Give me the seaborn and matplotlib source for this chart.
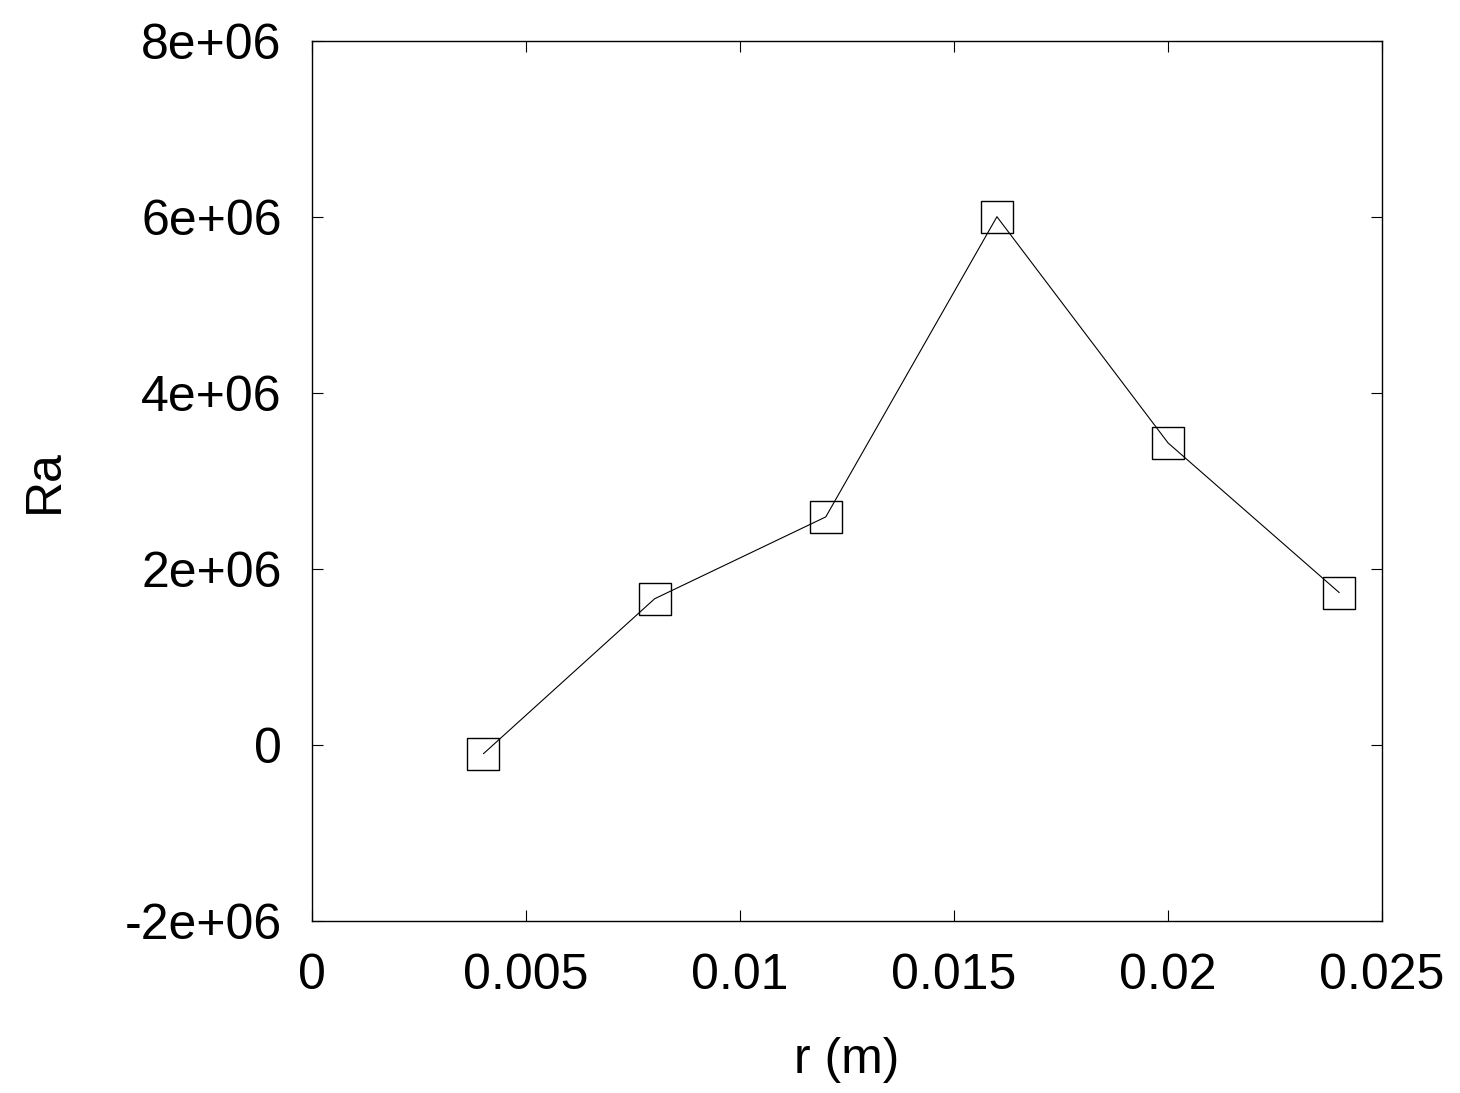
import matplotlib
matplotlib.use("Agg")
import matplotlib.pyplot as plt
import seaborn as sns
import pandas as pd

r_values = [0.004, 0.008, 0.012, 0.016, 0.020, 0.024]
ra_values = [-0.10e6, 1.66e6, 2.59e6, 6.00e6, 3.43e6, 1.73e6]
x_ticks = [0, 0.005, 0.01, 0.015, 0.02, 0.025]
x_tick_labels = ["0", "0.005", "0.01", "0.015", "0.02", "0.025"]
y_ticks = [-2e6, 0, 2e6, 4e6, 6e6, 8e6]
y_tick_labels = ["-2e+06", "0", "2e+06", "4e+06", "6e+06", "8e+06"]

sns.set_style("ticks")
plt.rcParams["font.family"] = ["Liberation Sans", "DejaVu Sans"]

df = pd.DataFrame({"r": r_values, "Ra": ra_values})

fig = plt.figure(figsize=(14.6, 10.93), dpi=100)
ax = fig.add_axes([0.2139, 0.1574, 0.9466 - 0.2139, 0.9628 - 0.1574])

sns.lineplot(data=df, x="r", y="Ra", ax=ax, color="black", linewidth=0.8,
             marker="s", markersize=23, markerfacecolor="none",
             markeredgecolor="black", markeredgewidth=1.0, sort=False)

ax.set_xlim(0, 0.025)
ax.set_ylim(-2e6, 8e6)
ax.set_xticks(x_ticks)
ax.set_xticklabels(x_tick_labels)
ax.set_yticks(y_ticks)
ax.set_yticklabels(y_tick_labels)
ax.tick_params(direction="in", length=8, width=0.8, top=True, right=True,
               labelsize=36, color="black", labelcolor="black")
ax.tick_params(axis="x", pad=23)
ax.tick_params(axis="y", pad=22)
for s in ax.spines.values():
    s.set_visible(True)
    s.set_linewidth(1.0)
    s.set_color("black")

ax.set_xlabel("r (m)", fontsize=36, color="black", va="center")
ax.set_ylabel("Ra", fontsize=36, color="black", va="center")
ax.xaxis.set_label_coords(0.5, -0.158)
ax.yaxis.set_label_coords(-0.250, 0.5)

fig.savefig("out.png", dpi=100, facecolor="white")
